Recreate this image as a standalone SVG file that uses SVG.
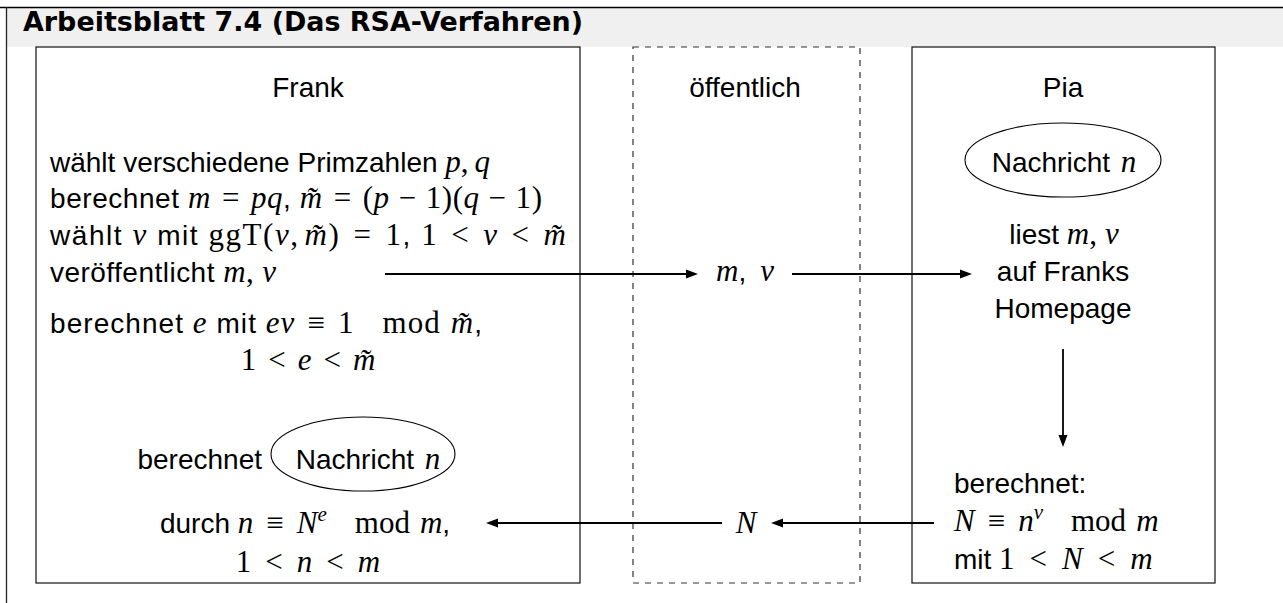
<svg xmlns="http://www.w3.org/2000/svg" width="1283" height="603" viewBox="0 0 1283 603">
<style>
.t{font-family:"Liberation Sans",Arial,sans-serif;font-size:28px;fill:#000}
.mi{font-family:"Liberation Serif","Times New Roman",serif;font-style:italic;font-size:31px}
.mr{font-family:"Liberation Serif","Times New Roman",serif;font-style:normal;font-size:31px}
.sup{font-size:21px}
.box{fill:none;stroke:#111;stroke-width:1.2}
.dash{fill:none;stroke:#333;stroke-width:1.2;stroke-dasharray:6 6}
.ell{fill:none;stroke:#000;stroke-width:1.1}
.arr{stroke:#000;stroke-width:1.8;fill:none;marker-end:url(#ah)}
.title{font-family:"DejaVu Sans",sans-serif;font-weight:bold;font-size:27px;fill:#000}
</style>
<defs>
<marker id="ah" markerUnits="userSpaceOnUse" markerWidth="14" markerHeight="10" refX="6" refY="4.5" orient="auto" overflow="visible">
<path d="M0,0 L12,4.5 L0,9 Z" fill="#000"/>
</marker>
</defs>
<rect width="1283" height="603" fill="#fff"/>
<g id="frame">
<rect x="7" y="7" width="1276" height="40" fill="#f0f0f0"/>
<line x1="0" y1="7.5" x2="1283" y2="7.5" stroke="#000" stroke-width="1.5"/>
<line x1="6.5" y1="7" x2="6.5" y2="603" stroke="#222" stroke-width="1.3"/>
<text class="title" x="23" y="31" textLength="560" lengthAdjust="spacingAndGlyphs">Arbeitsblatt 7.4 (Das RSA-Verfahren)</text>
</g>
<g id="frank">
<rect class="box" x="36" y="47" width="544" height="536"/>
<text class="t" x="308" y="97" text-anchor="middle">Frank</text>
<text class="t" x="50" y="172">wählt verschiedene Primzahlen <tspan class="mi">p</tspan><tspan class="mr">,</tspan><tspan class="mi" dx="6">q</tspan></text>
<text class="t" x="50" y="208" textLength="492">berechnet <tspan class="mi">m</tspan><tspan class="mr" dx="11">=</tspan><tspan class="mi" dx="11">pq</tspan>, <tspan class="mi">m̃</tspan><tspan class="mr" dx="11">=</tspan><tspan class="mr" dx="11">(</tspan><tspan class="mi">p</tspan><tspan class="mr" dx="9">−</tspan><tspan class="mr" dx="9">1)(</tspan><tspan class="mi">q</tspan><tspan class="mr" dx="9">−</tspan><tspan class="mr" dx="9">1)</tspan></text>
<text class="t" x="50" y="245" textLength="516">wählt <tspan class="mi">v</tspan> mit <tspan class="mr">ggT(</tspan><tspan class="mi">v</tspan><tspan class="mr">,</tspan><tspan class="mi" dx="5">m̃</tspan><tspan class="mr">)</tspan><tspan class="mr" dx="13">=</tspan><tspan class="mr" dx="13">1</tspan>, <tspan class="mr">1</tspan><tspan class="mr" dx="13">&lt;</tspan><tspan class="mi" dx="13">v</tspan><tspan class="mr" dx="13">&lt;</tspan><tspan class="mi" dx="13">m̃</tspan></text>
<text class="t" x="50" y="282" textLength="226">veröffentlicht <tspan class="mi">m</tspan><tspan class="mr">,</tspan><tspan class="mi" dx="8">v</tspan></text>
<text class="t" x="50" y="333" textLength="432">berechnet <tspan class="mi">e</tspan> mit <tspan class="mi">ev</tspan><tspan class="mr" dx="12">≡</tspan><tspan class="mr" dx="12">1</tspan><tspan class="mr" dx="28">mod</tspan><tspan class="mi" dx="10">m̃</tspan>,</text>
<text class="t" x="308" y="370" text-anchor="middle"><tspan class="mr">1</tspan><tspan class="mr" dx="12">&lt;</tspan><tspan class="mi" dx="12">e</tspan><tspan class="mr" dx="12">&lt;</tspan><tspan class="mi" dx="12">m̃</tspan></text>
<text class="t" x="262" y="469" text-anchor="end">berechnet</text>
<ellipse class="ell" cx="363" cy="454" rx="92" ry="37"/>
<text class="t" x="368" y="469" text-anchor="middle">Nachricht <tspan class="mi" dx="3">n</tspan></text>
<text class="t" x="305" y="533" text-anchor="middle">durch <tspan class="mi">n</tspan><tspan class="mr" dx="13">≡</tspan><tspan class="mi" dx="13">N</tspan><tspan class="mi sup" dy="-12">e</tspan><tspan class="mr" dx="28" dy="12">mod</tspan><tspan class="mi" dx="10">m</tspan>,</text>
<text class="t" x="308" y="572" text-anchor="middle"><tspan class="mr">1</tspan><tspan class="mr" dx="14">&lt;</tspan><tspan class="mi" dx="14">n</tspan><tspan class="mr" dx="14">&lt;</tspan><tspan class="mi" dx="14">m</tspan></text>
</g>
<g id="public">
<rect class="dash" x="633" y="47" width="227" height="536"/>
<text class="t" x="745" y="97" text-anchor="middle">öffentlich</text>
<text class="t" x="745" y="281" text-anchor="middle"><tspan class="mi">m</tspan>,<tspan class="mi" dx="14">v</tspan></text>
<text class="t" x="746" y="533" text-anchor="middle"><tspan class="mi">N</tspan></text>
</g>
<g id="pia">
<rect class="box" x="912" y="47" width="303" height="536"/>
<text class="t" x="1063" y="97" text-anchor="middle">Pia</text>
<ellipse class="ell" cx="1063" cy="160" rx="98" ry="37"/>
<text class="t" x="1064" y="172" text-anchor="middle">Nachricht <tspan class="mi" dx="3">n</tspan></text>
<text class="t" x="1064" y="244" text-anchor="middle">liest <tspan class="mi">m</tspan><tspan class="mr">,</tspan><tspan class="mi" dx="8">v</tspan></text>
<text class="t" x="1063" y="281" text-anchor="middle">auf Franks</text>
<text class="t" x="1063" y="318" text-anchor="middle">Homepage</text>
<text class="t" x="954" y="493">berechnet:</text>
<text class="t" x="954" y="531"><tspan class="mi">N</tspan><tspan class="mr" dx="13">≡</tspan><tspan class="mi" dx="13">n</tspan><tspan class="mi sup" dy="-12">v</tspan><tspan class="mr" dx="28" dy="12">mod</tspan><tspan class="mi" dx="10">m</tspan></text>
<text class="t" x="954" y="569">mit <tspan class="mr">1</tspan><tspan class="mr" dx="15">&lt;</tspan><tspan class="mi" dx="15">N</tspan><tspan class="mr" dx="15">&lt;</tspan><tspan class="mi" dx="15">m</tspan></text>
</g>
<g id="connectors">
<line class="arr" x1="385" y1="274" x2="692" y2="274"/>
<line class="arr" x1="792" y1="274" x2="966" y2="274"/>
<line class="arr" x1="1063" y1="349" x2="1063" y2="441"/>
<line class="arr" x1="934" y1="523" x2="777" y2="523"/>
<line class="arr" x1="722" y1="523" x2="492" y2="523"/>
</g>
</svg>
